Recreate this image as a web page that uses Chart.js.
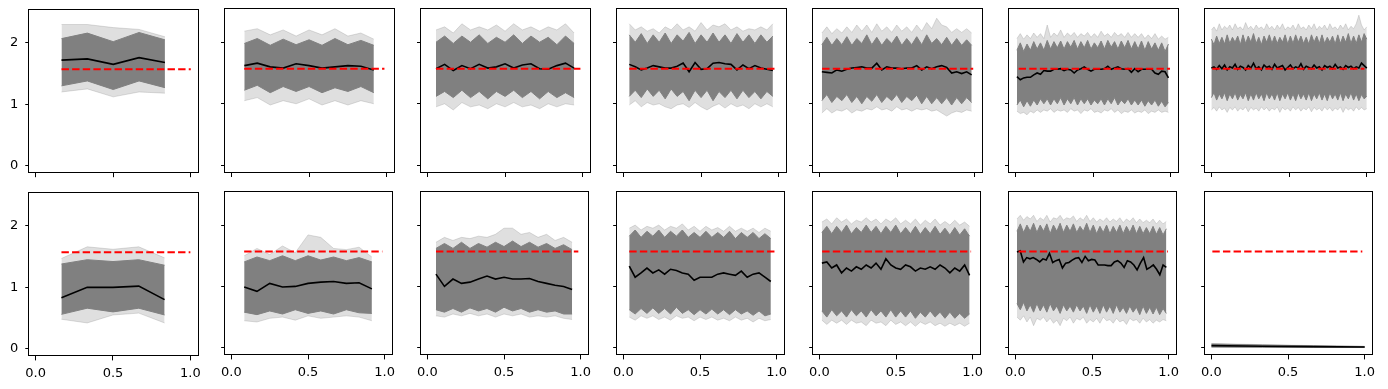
<!DOCTYPE html>
<html><head><meta charset="utf-8">
<script src="https://cdn.jsdelivr.net/npm/chart.js@4/dist/chart.umd.min.js"></script>
<style>
html,body{margin:0;padding:0;background:#fff;width:1388px;height:389px;overflow:hidden}
#wrap{position:relative;width:1388px;height:389px;background:#fff}
canvas{position:absolute;display:block}
</style></head><body><div id="wrap"></div>
<script>
// ---------- tick labels / constants ----------
const xTicks = [0, 0.5, 1];
const yTicks = [0, 1, 2];
const refLevel = 1.5708;
// x extent of the data in each column, and of the red reference line
const colX = [[1/6,5/6],[1/12,11/12],[1/18,17/18],[0.038,0.962],[0.016,0.98],[0.01,0.985],[0,1]];
const refX = [[0.167,1.0],[0.083,0.985],[0.056,0.985],[0.038,0.99],[0.018,0.99],[0.021,0.995],[0.006,0.985]];

// ---------- row 1 ----------
const r1c1Mean = [1.72,1.74,1.65,1.76,1.68];
const r1c1Hi   = [2.07,2.16,2.02,2.17,2.05];
const r1c1Lo   = [1.30,1.38,1.24,1.38,1.27];
const r1c1FHi  = [2.30,2.30,2.25,2.22,2.10];
const r1c1FLo  = [1.20,1.25,1.12,1.20,1.18];

const r1c2Mean = [1.62,1.66,1.60,1.58,1.65,1.62,1.58,1.60,1.62,1.61,1.55];
const r1c2Hi   = [1.98,2.06,1.95,2.05,1.96,2.04,1.95,2.06,1.96,2.03,1.95];
const r1c2Lo   = [1.22,1.30,1.18,1.28,1.20,1.28,1.18,1.26,1.20,1.28,1.18];
const r1c2FHi  = [2.18,2.22,2.12,2.20,2.10,2.20,2.12,2.22,2.10,2.15,2.05];
const r1c2FLo  = [1.05,1.10,0.98,1.05,1.00,1.08,0.98,1.05,0.98,1.05,1.00];

const r1c3Mean = [1.57,1.64,1.54,1.62,1.57,1.64,1.58,1.60,1.65,1.58,1.63,1.65,1.57,1.56,1.62,1.66,1.58];
const r1c3Hi   = [2.00,2.10,1.98,2.10,2.00,2.12,1.98,2.08,2.00,2.12,1.98,2.10,2.00,2.08,1.96,2.10,1.98];
const r1c3Lo   = [1.12,1.20,1.10,1.22,1.10,1.20,1.08,1.20,1.12,1.22,1.10,1.20,1.08,1.20,1.10,1.18,1.10];
const r1c3FHi  = [2.20,2.25,2.15,2.30,2.20,2.25,2.20,2.28,2.18,2.30,2.20,2.25,2.18,2.25,2.20,2.30,2.15];
const r1c3FLo  = [0.95,1.00,0.90,1.02,0.95,0.98,0.92,1.00,0.95,1.02,0.95,0.98,0.92,1.00,0.95,1.00,0.98];

const r1c4Mean = [1.64,1.60,1.55,1.58,1.62,1.60,1.58,1.58,1.61,1.66,1.52,1.67,1.56,1.57,1.66,1.67,1.65,1.64,1.55,1.63,1.57,1.62,1.58,1.56,1.54];
const r1c4Hi   = [2.12,2.00,2.14,1.98,2.12,2.00,2.15,1.98,2.12,2.02,2.16,1.98,2.12,2.00,2.15,2.00,2.12,1.98,2.14,2.00,2.12,1.98,2.12,2.00,2.10];
const r1c4Lo   = [1.12,1.22,1.10,1.24,1.12,1.22,1.08,1.24,1.12,1.20,1.05,1.22,1.10,1.22,1.05,1.20,1.10,1.22,1.08,1.22,1.10,1.20,1.08,1.20,1.12];
const r1c4FHi  = [2.30,2.20,2.25,2.18,2.22,2.15,2.25,2.20,2.30,2.20,2.25,2.18,2.32,2.20,2.28,2.25,2.30,2.20,2.25,2.18,2.22,2.20,2.25,2.20,2.30];
const r1c4FLo  = [0.98,1.05,0.95,1.02,0.98,1.00,0.95,0.92,0.98,1.00,0.94,1.02,0.95,0.90,0.96,1.00,0.93,1.00,0.95,0.98,0.92,1.00,0.95,1.00,0.95];

const r1c5Mean = [1.52,1.51,1.50,1.55,1.53,1.56,1.58,1.59,1.60,1.58,1.58,1.66,1.55,1.60,1.58,1.58,1.57,1.58,1.58,1.62,1.55,1.60,1.57,1.60,1.62,1.59,1.50,1.52,1.49,1.52,1.47];
const r1c5Hi   = [1.96,2.08,1.95,2.06,1.96,2.09,1.95,2.06,1.98,2.12,1.96,2.08,1.95,2.06,1.98,2.10,1.95,2.06,1.96,2.09,1.96,2.12,1.98,2.06,1.96,2.08,1.95,2.06,1.95,2.04,1.95];
const r1c5Lo   = [1.05,1.15,1.02,1.12,1.05,1.15,1.02,1.12,1.00,1.12,1.04,1.15,1.02,1.12,1.05,1.15,1.02,1.12,1.05,1.14,1.00,1.12,1.00,1.10,1.00,1.10,0.98,1.10,1.00,1.10,1.02];
const r1c5FHi  = [2.15,2.25,2.14,2.22,2.15,2.25,2.16,2.28,2.18,2.28,2.16,2.30,2.18,2.25,2.16,2.28,2.18,2.25,2.16,2.28,2.18,2.32,2.22,2.39,2.28,2.25,2.16,2.22,2.16,2.22,2.15];
const r1c5FLo  = [0.85,0.92,0.85,0.90,0.88,0.92,0.85,0.90,0.88,0.92,0.90,0.95,0.90,0.92,0.88,0.95,0.90,0.92,0.88,0.92,0.90,0.92,0.88,0.90,0.85,0.80,0.85,0.88,0.86,0.90,0.88];

const r1c6Mean = [1.44,1.39,1.42,1.43,1.43,1.47,1.50,1.48,1.54,1.53,1.53,1.56,1.56,1.57,1.54,1.56,1.55,1.50,1.55,1.57,1.60,1.56,1.53,1.56,1.56,1.56,1.57,1.61,1.56,1.58,1.60,1.57,1.56,1.57,1.51,1.57,1.52,1.56,1.56,1.56,1.56,1.50,1.48,1.53,1.52,1.42];
const r1c6Hi   = [1.87,1.99,1.85,1.97,1.87,2.01,1.89,1.99,1.87,2.03,1.89,2.01,1.91,2.02,1.89,2.01,1.92,2.03,1.89,2.01,1.91,2.03,1.89,1.99,1.91,2.02,1.89,2.03,1.92,2.01,1.89,2.02,1.91,2.03,1.89,2.01,1.89,2.02,1.87,2.01,1.89,1.99,1.87,1.99,1.85,1.97];
const r1c6Lo   = [0.98,1.06,0.95,1.05,0.96,1.06,0.98,1.08,1.00,1.08,0.98,1.08,1.00,1.10,0.98,1.08,1.00,1.10,0.98,1.08,1.00,1.08,0.98,1.06,1.00,1.08,0.98,1.08,1.00,1.10,0.98,1.06,1.00,1.08,0.98,1.06,0.98,1.06,0.96,1.05,0.98,1.06,0.96,1.04,0.95,1.02];
const r1c6FHi  = [2.06,2.14,2.05,2.12,2.06,2.15,2.08,2.14,2.06,2.28,2.08,2.15,2.10,2.20,2.08,2.15,2.10,2.16,2.08,2.14,2.10,2.16,2.08,2.14,2.08,2.18,2.10,2.14,2.08,2.16,2.10,2.14,2.08,2.16,2.08,2.14,2.08,2.14,2.06,2.12,2.06,2.14,2.05,2.10,2.05,2.08];
const r1c6FLo  = [0.88,0.84,0.86,0.82,0.88,0.85,0.90,0.86,0.90,0.88,0.92,0.86,0.90,0.88,0.90,0.86,0.92,0.88,0.90,0.84,0.90,0.88,0.92,0.86,0.88,0.85,0.90,0.88,0.92,0.86,0.90,0.84,0.88,0.86,0.90,0.85,0.88,0.86,0.90,0.84,0.88,0.86,0.90,0.86,0.88,0.86];

const r1c7Mean = [1.58,1.60,1.56,1.62,1.57,1.63,1.55,1.60,1.58,1.64,1.56,1.61,1.59,1.55,1.62,1.58,1.66,1.57,1.60,1.55,1.63,1.59,1.61,1.56,1.64,1.58,1.60,1.62,1.55,1.59,1.63,1.57,1.60,1.58,1.65,1.56,1.61,1.59,1.57,1.63,1.58,1.60,1.55,1.62,1.59,1.61,1.57,1.64,1.58,1.60,1.56,1.62,1.59,1.61,1.57,1.60,1.58,1.66,1.62,1.58];
const r1c7Hi   = [2.05,1.96,2.10,1.98,2.08,1.97,2.12,1.98,2.08,2.00,2.10,1.96,2.12,1.98,2.10,2.00,2.14,1.98,2.08,1.96,2.10,2.00,2.12,1.98,2.10,1.98,2.08,2.00,2.12,1.97,2.10,1.98,2.12,2.00,2.10,1.98,2.08,1.97,2.12,2.00,2.10,1.98,2.12,1.98,2.08,2.00,2.10,1.97,2.12,1.98,2.10,2.00,2.14,1.98,2.10,1.98,2.12,2.00,2.14,2.05];
const r1c7Lo   = [1.10,1.18,1.06,1.16,1.08,1.18,1.05,1.16,1.08,1.18,1.06,1.15,1.08,1.18,1.05,1.16,1.06,1.18,1.08,1.16,1.05,1.18,1.08,1.16,1.06,1.18,1.05,1.16,1.08,1.18,1.06,1.16,1.05,1.18,1.08,1.16,1.06,1.18,1.05,1.16,1.08,1.18,1.06,1.16,1.05,1.18,1.08,1.16,1.06,1.18,1.05,1.16,1.08,1.18,1.06,1.16,1.05,1.15,1.08,1.12];
const r1c7FHi  = [2.20,2.25,2.18,2.30,2.20,2.26,2.22,2.28,2.20,2.30,2.22,2.25,2.20,2.32,2.22,2.26,2.20,2.28,2.22,2.25,2.20,2.30,2.22,2.26,2.20,2.28,2.22,2.30,2.20,2.25,2.22,2.28,2.20,2.30,2.22,2.25,2.20,2.28,2.22,2.30,2.20,2.26,2.22,2.28,2.20,2.30,2.22,2.25,2.20,2.28,2.22,2.30,2.20,2.26,2.22,2.30,2.44,2.28,2.20,2.25];
const r1c7FLo  = [0.90,0.94,0.88,0.95,0.90,0.93,0.86,0.94,0.90,0.95,0.88,0.93,0.90,0.95,0.87,0.94,0.90,0.93,0.88,0.95,0.90,0.94,0.88,0.93,0.90,0.95,0.86,0.94,0.90,0.93,0.88,0.95,0.90,0.94,0.88,0.93,0.90,0.95,0.87,0.94,0.90,0.93,0.88,0.95,0.90,0.94,0.88,0.93,0.90,0.95,0.86,0.94,0.90,0.93,0.88,0.95,0.90,0.94,0.90,0.92];

// ---------- row 2 ----------
const r2c1Mean = [0.83,1.00,1.00,1.02,0.80];
const r2c1Hi   = [1.38,1.45,1.42,1.45,1.36];
const r2c1Lo   = [0.56,0.66,0.60,0.66,0.55];
const r2c1FHi  = [1.47,1.66,1.62,1.66,1.48];
const r2c1FLo  = [0.48,0.42,0.55,0.58,0.42];

const r2c2Mean = [0.99,0.92,1.05,0.99,1.00,1.05,1.07,1.08,1.05,1.06,0.96];
const r2c2Hi   = [1.40,1.48,1.42,1.50,1.42,1.50,1.43,1.48,1.42,1.47,1.40];
const r2c2Lo   = [0.58,0.54,0.60,0.55,0.62,0.56,0.60,0.55,0.62,0.57,0.56];
const r2c2FHi  = [1.50,1.62,1.52,1.66,1.55,1.84,1.80,1.62,1.60,1.64,1.48];
const r2c2FLo  = [0.44,0.42,0.48,0.50,0.45,0.52,0.48,0.50,0.52,0.50,0.44];

const r2c3Mean = [1.20,1.00,1.12,1.05,1.07,1.12,1.17,1.12,1.15,1.12,1.12,1.13,1.08,1.05,1.02,1.00,0.95];
const r2c3Hi   = [1.62,1.70,1.62,1.72,1.62,1.70,1.64,1.72,1.65,1.74,1.65,1.72,1.64,1.70,1.62,1.68,1.60];
const r2c3Lo   = [0.62,0.58,0.64,0.58,0.65,0.60,0.64,0.58,0.66,0.60,0.64,0.58,0.62,0.58,0.60,0.55,0.55];
const r2c3FHi  = [1.72,1.80,1.75,1.80,1.78,1.82,1.80,1.85,1.95,1.95,1.85,1.88,1.80,1.85,1.75,1.80,1.72];
const r2c3FLo  = [0.52,0.50,0.55,0.52,0.56,0.52,0.55,0.50,0.55,0.52,0.55,0.50,0.52,0.50,0.52,0.48,0.46];

const r2c4Mean = [1.33,1.15,1.22,1.30,1.22,1.27,1.20,1.28,1.26,1.22,1.20,1.10,1.15,1.15,1.15,1.20,1.22,1.20,1.18,1.25,1.15,1.20,1.22,1.15,1.08];
const r2c4Hi   = [1.82,1.92,1.80,1.90,1.82,1.92,1.80,1.90,1.82,1.92,1.80,1.88,1.80,1.90,1.80,1.88,1.80,1.90,1.78,1.88,1.80,1.88,1.78,1.86,1.78];
const r2c4Lo   = [0.62,0.55,0.64,0.56,0.65,0.56,0.64,0.55,0.66,0.56,0.62,0.54,0.62,0.55,0.63,0.55,0.62,0.54,0.62,0.55,0.60,0.53,0.60,0.52,0.55];
const r2c4FHi  = [1.95,2.00,1.92,1.98,1.95,2.00,1.92,1.98,1.95,2.02,1.92,1.98,1.90,1.98,1.92,1.96,1.90,1.98,1.90,1.95,1.90,1.95,1.88,1.95,1.90];
const r2c4FLo  = [0.50,0.45,0.52,0.48,0.52,0.46,0.50,0.45,0.52,0.48,0.50,0.44,0.50,0.46,0.50,0.45,0.48,0.44,0.50,0.45,0.48,0.42,0.48,0.44,0.46];

const r2c5Mean = [1.38,1.40,1.30,1.35,1.22,1.30,1.25,1.32,1.28,1.35,1.30,1.38,1.28,1.45,1.35,1.30,1.28,1.35,1.32,1.25,1.30,1.28,1.32,1.28,1.35,1.30,1.22,1.30,1.25,1.35,1.18];
const r2c5Hi   = [1.88,1.98,1.86,1.98,1.88,2.00,1.86,1.96,1.88,2.00,1.88,1.98,1.86,1.98,1.88,2.00,1.86,1.96,1.86,1.98,1.85,1.96,1.86,1.98,1.85,1.95,1.84,1.96,1.84,1.94,1.82];
const r2c5Lo   = [0.60,0.50,0.62,0.52,0.60,0.50,0.62,0.52,0.60,0.50,0.62,0.52,0.60,0.50,0.62,0.50,0.60,0.50,0.60,0.48,0.58,0.50,0.60,0.50,0.58,0.48,0.58,0.48,0.56,0.48,0.55];
const r2c5FHi  = [2.05,2.10,2.02,2.12,2.05,2.10,2.02,2.08,2.05,2.12,2.05,2.10,2.02,2.10,2.05,2.12,2.02,2.08,2.02,2.10,2.00,2.08,2.02,2.10,2.00,2.06,2.00,2.08,2.00,2.05,1.98];
const r2c5FLo  = [0.45,0.38,0.45,0.40,0.45,0.38,0.45,0.40,0.42,0.36,0.45,0.40,0.42,0.36,0.45,0.38,0.42,0.36,0.42,0.35,0.42,0.38,0.42,0.36,0.40,0.35,0.40,0.36,0.40,0.35,0.40];

const r2c6Mean = [1.56,1.58,1.40,1.47,1.45,1.47,1.44,1.40,1.45,1.43,1.54,1.39,1.42,1.44,1.30,1.38,1.39,1.43,1.46,1.47,1.39,1.49,1.42,1.44,1.43,1.35,1.35,1.35,1.34,1.34,1.40,1.42,1.38,1.31,1.42,1.40,1.35,1.27,1.38,1.47,1.28,1.31,1.35,1.28,1.19,1.35,1.31];
const r2c6Hi   = [1.90,2.02,1.88,2.00,1.90,2.03,1.88,2.00,1.90,2.02,1.86,2.00,1.90,2.03,1.88,2.00,1.90,2.02,1.88,1.98,1.90,2.03,1.88,2.00,1.86,1.98,1.88,2.00,1.86,1.98,1.88,2.00,1.86,1.98,1.88,2.00,1.86,1.98,1.86,1.96,1.86,1.98,1.85,1.96,1.84,1.94];
const r2c6Lo   = [0.72,0.62,0.74,0.60,0.70,0.58,0.72,0.60,0.70,0.58,0.72,0.60,0.68,0.56,0.70,0.60,0.68,0.58,0.70,0.60,0.68,0.56,0.70,0.58,0.68,0.56,0.70,0.58,0.68,0.56,0.70,0.58,0.66,0.56,0.68,0.58,0.66,0.54,0.68,0.56,0.66,0.55,0.66,0.54,0.64,0.56];
const r2c6FHi  = [2.10,2.16,2.08,2.14,2.10,2.16,2.06,2.12,2.08,2.16,2.05,2.12,2.10,2.16,2.08,2.12,2.10,2.15,2.06,2.12,2.08,2.16,2.06,2.12,2.05,2.10,2.06,2.12,2.05,2.10,2.06,2.12,2.04,2.10,2.06,2.12,2.04,2.10,2.04,2.08,2.04,2.10,2.02,2.08,2.02,2.06];
const r2c6FLo  = [0.50,0.45,0.52,0.42,0.50,0.36,0.48,0.45,0.50,0.42,0.48,0.40,0.45,0.36,0.48,0.44,0.50,0.40,0.48,0.45,0.50,0.40,0.46,0.42,0.48,0.40,0.50,0.44,0.46,0.40,0.48,0.42,0.45,0.38,0.48,0.44,0.46,0.40,0.48,0.42,0.46,0.40,0.45,0.42,0.46,0.44];

const r2c7Mean = [0.035,0.025,0.018,0.012];
const r2c7Hi   = [0.060,0.045,0.030,0.020];
const r2c7Lo   = [0.012,0.008,0.005,0.004];
const r2c7FHi  = [0.070,0.050,0.035,0.024];
const r2c7FLo  = [0.008,0.006,0.004,0.003];

const panels = [
  [ {mean:r1c1Mean,hi:r1c1Hi,lo:r1c1Lo,fhi:r1c1FHi,flo:r1c1FLo},
    {mean:r1c2Mean,hi:r1c2Hi,lo:r1c2Lo,fhi:r1c2FHi,flo:r1c2FLo},
    {mean:r1c3Mean,hi:r1c3Hi,lo:r1c3Lo,fhi:r1c3FHi,flo:r1c3FLo},
    {mean:r1c4Mean,hi:r1c4Hi,lo:r1c4Lo,fhi:r1c4FHi,flo:r1c4FLo},
    {mean:r1c5Mean,hi:r1c5Hi,lo:r1c5Lo,fhi:r1c5FHi,flo:r1c5FLo},
    {mean:r1c6Mean,hi:r1c6Hi,lo:r1c6Lo,fhi:r1c6FHi,flo:r1c6FLo},
    {mean:r1c7Mean,hi:r1c7Hi,lo:r1c7Lo,fhi:r1c7FHi,flo:r1c7FLo} ],
  [ {mean:r2c1Mean,hi:r2c1Hi,lo:r2c1Lo,fhi:r2c1FHi,flo:r2c1FLo},
    {mean:r2c2Mean,hi:r2c2Hi,lo:r2c2Lo,fhi:r2c2FHi,flo:r2c2FLo},
    {mean:r2c3Mean,hi:r2c3Hi,lo:r2c3Lo,fhi:r2c3FHi,flo:r2c3FLo},
    {mean:r2c4Mean,hi:r2c4Hi,lo:r2c4Lo,fhi:r2c4FHi,flo:r2c4FLo},
    {mean:r2c5Mean,hi:r2c5Hi,lo:r2c5Lo,fhi:r2c5FHi,flo:r2c5FLo},
    {mean:r2c6Mean,hi:r2c6Hi,lo:r2c6Lo,fhi:r2c6FHi,flo:r2c6FLo},
    {mean:r2c7Mean,hi:r2c7Hi,lo:r2c7Lo,fhi:r2c7FHi,flo:r2c7FLo} ]
];

// ---------- layout ----------
const PANEL_W = 170, PANEL_H = 163.4;
const LEFT0 = 29.3, COL_STEP = 196;
const ROW_TOP = [9.3, 192.3];
const X_MIN = -0.041, X_MAX = 1.053;
const Y_MIN = -0.125, Y_MAX = 2.54;
const FONT = {family: "'DejaVu Sans', sans-serif", size: 13};

function series(arr, x0, x1) {
  const n = arr.length;
  return arr.map((v, i) => ({x: n === 1 ? x0 : x0 + (x1 - x0) * i / (n - 1), y: v}));
}

const framePlugin = {
  id: 'frame',
  afterDraw(chart) {
    const a = chart.chartArea, ctx = chart.ctx;
    ctx.save();
    ctx.strokeStyle = '#000';
    ctx.lineWidth = 1;
    const l = Math.round(a.left) - 0.5, t = Math.round(a.top) - 0.5;
    const r = Math.round(a.right) - 0.5, b = Math.round(a.bottom) - 0.5;
    ctx.strokeRect(l, t, r - l, b - t);
    ctx.restore();
  }
};

function makeConfig(p, col, showX, showY) {
  const [x0, x1] = colX[col];
  const [rx0, rx1] = refX[col];
  return {
    type: 'line',
    data: {datasets: [
      {data: series(p.flo, x0, x1), borderColor: 'rgba(128,128,128,0.25)', borderWidth: 1, fill: false, order: 5},
      {data: series(p.fhi, x0, x1), borderColor: 'rgba(128,128,128,0.25)', borderWidth: 1, fill: '-1', backgroundColor: 'rgba(128,128,128,0.25)', order: 4},
      {data: series(p.lo, x0, x1), borderColor: '#808080', borderWidth: 1, fill: false, order: 3},
      {data: series(p.hi, x0, x1), borderColor: '#808080', borderWidth: 1, fill: '-1', backgroundColor: '#808080', order: 2},
      {data: series(p.mean, x0, x1), borderColor: '#000', borderWidth: 1.6, fill: false, order: 1},
      {data: [{x: rx0, y: refLevel}, {x: rx1, y: refLevel}], borderColor: '#ff0000', borderWidth: 2, borderDash: [7.4, 3.2], fill: false, order: 0}
    ]},
    options: {
      responsive: false, animation: false, devicePixelRatio: 1,
      events: [],
      plugins: {legend: {display: false}, tooltip: {enabled: false}},
      elements: {line: {tension: 0, borderCapStyle: 'butt'}, point: {radius: 0}},
      layout: {padding: {top: 6, right: 6, left: 0, bottom: 0}},
      scales: {
        x: {
          type: 'linear', min: X_MIN, max: X_MAX,
          afterBuildTicks: s => { s.ticks = xTicks.map(v => ({value: v})); },
          ticks: {display: showX, callback: v => v.toFixed(1), font: FONT, color: '#000', padding: 5, maxRotation: 0, autoSkip: false},
          grid: {display: true, drawOnChartArea: false, drawTicks: true, tickLength: 4, color: '#000', lineWidth: 1},
          border: {display: false}
        },
        y: {
          type: 'linear', min: Y_MIN, max: Y_MAX,
          afterBuildTicks: s => { s.ticks = yTicks.map(v => ({value: v})); },
          ticks: {display: showY, callback: v => String(v), font: FONT, color: '#000', padding: 7, autoSkip: false},
          grid: {display: true, drawOnChartArea: false, drawTicks: true, tickLength: 4, color: '#000', lineWidth: 1},
          border: {display: false}
        }
      }
    },
    plugins: [framePlugin]
  };
}

const wrap = document.getElementById('wrap');
function build(row, col) {
  const p = panels[row][col];
  const showX = row === 1, showY = col === 0;
  let w = PANEL_W + 46, h = PANEL_H + 46;
  let cv = document.createElement('canvas');
  cv.width = w; cv.height = h; cv.style.width = w + 'px'; cv.style.height = h + 'px';
  wrap.appendChild(cv);
  let ch = new Chart(cv, makeConfig(p, col, showX, showY));
  const a = ch.chartArea;
  w = Math.round(w + PANEL_W - (a.right - a.left));
  h = Math.round(h + PANEL_H - (a.bottom - a.top));
  ch.destroy(); cv.remove();
  cv = document.createElement('canvas');
  cv.width = w; cv.height = h; cv.style.width = w + 'px'; cv.style.height = h + 'px';
  wrap.appendChild(cv);
  ch = new Chart(cv, makeConfig(p, col, showX, showY));
  const b = ch.chartArea;
  cv.style.left = Math.round(LEFT0 + COL_STEP * col - b.left) + 'px';
  cv.style.top = Math.round(ROW_TOP[row] - b.top) + 'px';
}
for (let r = 0; r < 2; r++) for (let c = 0; c < 7; c++) build(r, c);
</script>
</body></html>
